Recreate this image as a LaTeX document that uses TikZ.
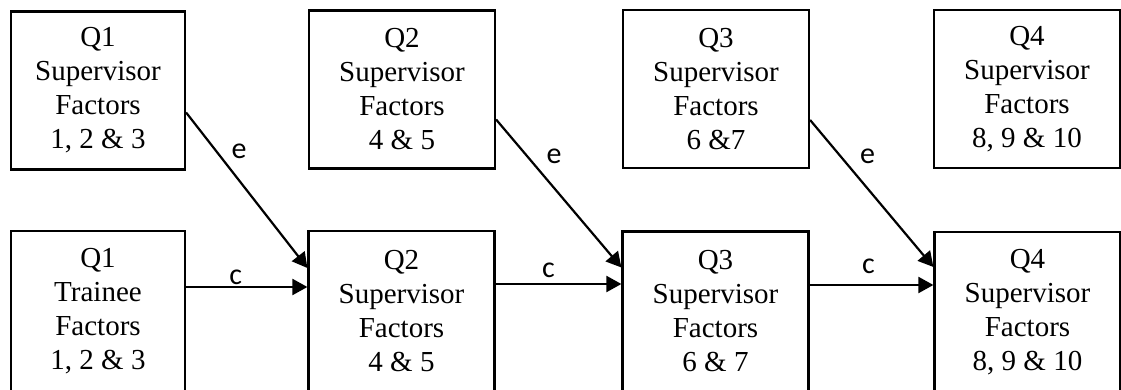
\documentclass[tikz,border=0pt]{standalone}
\usepackage{fontspec}
\setmainfont{Liberation Serif}
\newfontfamily\labelfont{Carlito}
\usetikzlibrary{arrows.meta}
\begin{document}
\begin{tikzpicture}[x=0.5pt,y=-0.5pt,
  factor/.style={draw, line width=1.1pt, align=center, inner sep=0pt,
    font=\fontsize{14.5}{17}\selectfont, minimum height=79pt},
  narrow/.style={factor, minimum width=87pt},
  wide/.style={factor, minimum width=93pt},
  link/.style={line width=1.1pt, -{Triangle[length=7.5pt,width=8pt]}},
  tag/.style={font=\labelfont\fontsize{15}{17}\selectfont, inner sep=0pt}]
\useasboundingbox (0,0) rectangle (1121,390);

% upper row: supervisor factors per quarter
\node[narrow] (s1) at (98,90.5) {Q1\\Supervisor\\Factors\\1, 2 \& 3};
\node[wide]   (s2) at (402,89.5) {Q2\\Supervisor\\Factors\\4 \& 5};
\node[wide]   (s3) at (716,89) {Q3\\Supervisor\\Factors\\6 \&7};
\node[wide]   (s4) at (1027,89) {Q4\\Supervisor\\Factors\\8, 9 \& 10};

% lower row: trainee factors and the following quarters
\node[narrow, minimum height=80pt] (t1) at (98,311) {Q1\\Trainee\\Factors\\1, 2 \& 3};
\node[wide, minimum height=80pt]   (b2) at (401.5,311) {Q2\\Supervisor\\Factors\\4 \& 5};
\node[wide, minimum height=80pt]   (b3) at (715.5,311.5) {Q3\\Supervisor\\Factors\\6 \& 7};
\node[wide, minimum height=80pt]   (b4) at (1027.5,312) {Q4\\Supervisor\\Factors\\8, 9 \& 10};

% diagonal paths (e)
\draw[link] ([yshift=-11pt]s1.east) -- node[tag, pos=0.25, right=7pt] {e} ([yshift=21.5pt]b2.west);
\draw[link] ([yshift=-15pt]s2.east) -- node[tag, pos=0.25, right=9pt] {e} ([yshift=22pt]b3.west);
\draw[link] ([yshift=-15.5pt]s3.east) -- node[tag, pos=0.25, right=9pt] {e} ([yshift=22.5pt]b4.west);

% horizontal paths (c)
\draw[link] ([yshift=12pt]t1.east) -- node[tag, midway, above=0.5pt, xshift=-5.5pt] {c} ([yshift=12pt]t1.east -| b2.west);
\draw[link] ([yshift=13.5pt]b2.east) -- node[tag, midway, above=2.5pt, xshift=-5pt] {c} ([yshift=13.5pt]b2.east -| b3.west);
\draw[link] ([yshift=13.25pt]b3.east) -- node[tag, midway, above=5pt, xshift=-1.5pt] {c} ([yshift=13.25pt]b3.east -| b4.west);
\end{tikzpicture}
\end{document}
